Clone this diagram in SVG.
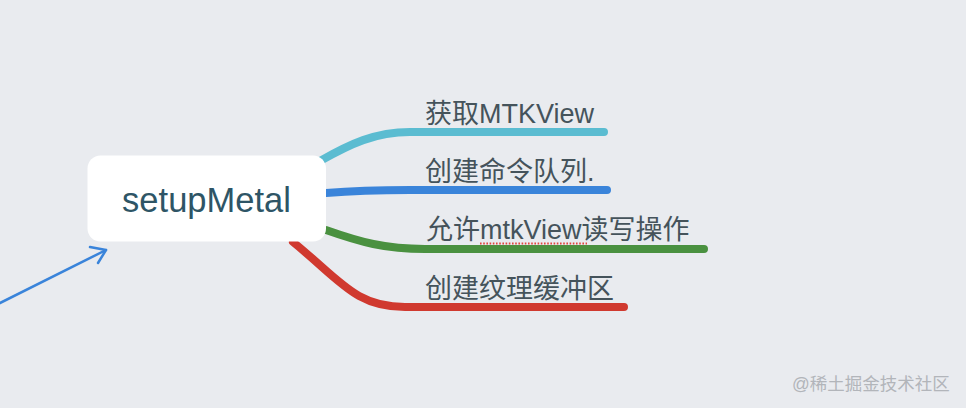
<svg xmlns="http://www.w3.org/2000/svg" width="966" height="408" viewBox="0 0 966 408">
<defs>
<style>
.br{fill:none;stroke-width:8;stroke-linecap:round;stroke-linejoin:round}
.lbl{font-family:"Liberation Sans","Noto Sans CJK SC",sans-serif;font-size:27px;fill:#45535b}
.root{font-family:"Liberation Sans",sans-serif;font-size:34.5px;fill:#2e5566}
.wm{font-family:"Liberation Sans","Noto Sans CJK SC",sans-serif;font-size:17.5px;fill:#b2b5ba}
</style>
</defs>
<rect width="966" height="408" fill="#e9ebef"/>
<g id="connectors">
<path class="br" stroke="#5bbcd1" d="M320,161 C350,144 375,132 410,132 L604,132"/>
<path class="br" stroke="#3a84da" d="M326,193 C350,191 375,190 410,190 L607,190"/>
<path class="br" stroke="#4a9140" d="M326,230 C360,242 385,249 425,249 L704,249"/>
<path class="br" stroke="#d0392f" d="M293,242 C340,280 355,307 405,307 L624,307"/>
<g stroke="#3a84da" stroke-width="2.5" fill="none" stroke-linecap="round" stroke-linejoin="round">
<line x1="-2" y1="304" x2="106" y2="250"/>
<polyline points="90,247 106,250 98,263"/>
</g>
</g>
<g id="node-setupMetal">
<rect x="87.5" y="155.5" width="238.5" height="86" rx="13" fill="#ffffff"/>
<text class="root" x="206.5" y="212" text-anchor="middle">setupMetal</text>
</g>
<g id="node-1">
<text class="lbl" x="425" y="123">获取MTKView</text>
</g>
<g id="node-2">
<text class="lbl" x="425" y="181">创建命令队列.</text>
</g>
<g id="node-3">
<text class="lbl" x="426" y="239">允许mtkView读写操作</text>
<line x1="480" y1="243.5" x2="587" y2="243.5" stroke="#e0463e" stroke-width="1.8" stroke-dasharray="1.6,1.6"/>
</g>
<g id="node-4">
<text class="lbl" x="425" y="298">创建纹理缓冲区</text>
</g>
<text class="wm" x="792" y="390">@稀土掘金技术社区</text>
</svg>
